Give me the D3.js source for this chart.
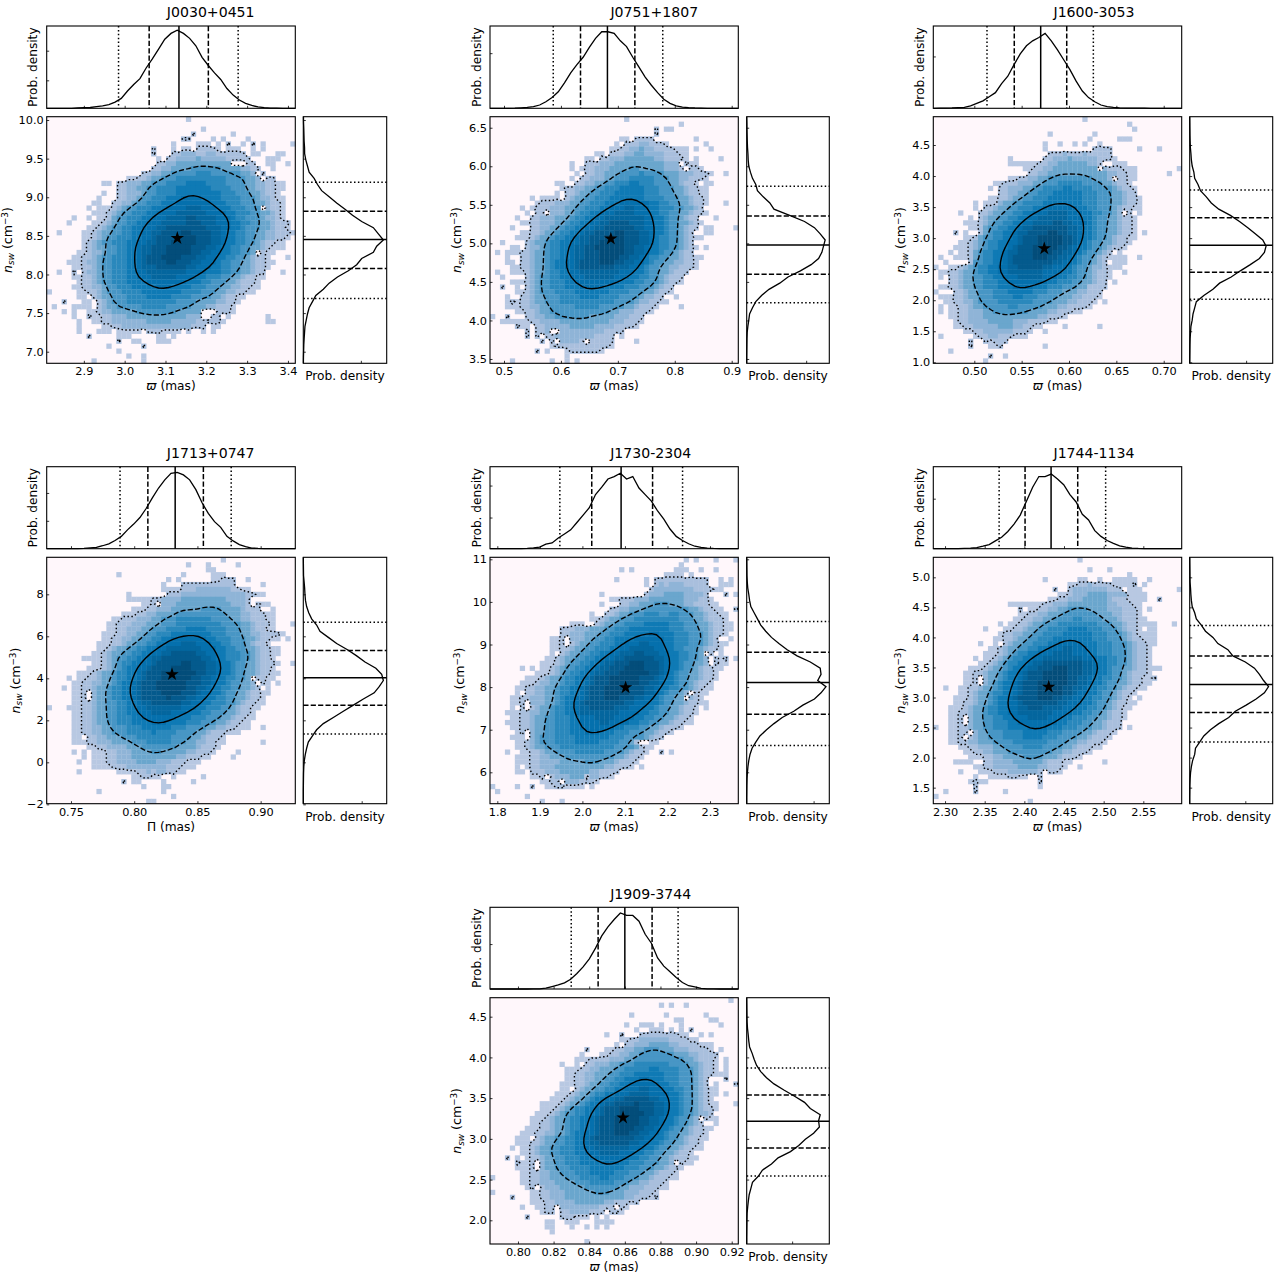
<!DOCTYPE html>
<html>
<head>
<meta charset="utf-8">
<script src="https://cdn.jsdelivr.net/npm/d3@7"></script>
<style>
body{margin:0;background:#fff}
text{font-family:"DejaVu Sans",sans-serif;fill:#000}
</style>
</head>
<body>
<script>
const names=['J0030+0451','J0751+1807','J1600-3053','J1713+0747','J1730-2304','J1744-1134','J1909-3744']
const xLabels=['ϖ','ϖ','ϖ','Π','ϖ','ϖ','ϖ']
const xDomains=[[2.809,3.418],[0.4754,0.9116],[0.4567,0.719],[0.7308,0.9274],[1.7828,2.3665],[2.2852,2.5984],[0.7843,0.9237]]
const yDomains=[[6.85,10.043],[3.444,6.643],[0.984,4.956],[-1.97,9.762],[5.263,11.047],[1.233,5.333],[1.709,4.733]]
const xTicks=[[2.9,3.0,3.1,3.2,3.3,3.4],[0.5,0.6,0.7,0.8,0.9],[0.50,0.55,0.60,0.65,0.70],[0.75,0.80,0.85,0.90],[1.8,1.9,2.0,2.1,2.2,2.3],[2.30,2.35,2.40,2.45,2.50,2.55],[0.80,0.82,0.84,0.86,0.88,0.90,0.92]]
const yTicks=[[7.0,7.5,8.0,8.5,9.0,9.5,10.0],[3.5,4.0,4.5,5.0,5.5,6.0,6.5],[1.0,1.5,2.0,2.5,3.0,3.5,4.0,4.5],[-2,0,2,4,6,8],[6,7,8,9,10,11],[1.5,2.0,2.5,3.0,3.5,4.0,4.5,5.0],[2.0,2.5,3.0,3.5,4.0,4.5]]
const xDecimals=[1,1,2,2,1,2,2]
const yDecimals=[1,1,1,0,0,1,1]
// dotted low, dashed low, median, dashed high, dotted high
const xQuantiles=[[2.985,3.06,3.133,3.205,3.278],[0.5865,0.6344,0.6817,0.7299,0.7789],[0.5134,0.5422,0.5701,0.5976,0.6257],[0.7888,0.8108,0.8324,0.8547,0.8767],[1.947,2.022,2.091,2.165,2.2355],[2.3682,2.4009,2.4337,2.4673,2.5025],[0.8299,0.845,0.86,0.8753,0.8899]]
const yQuantiles=[[7.688,8.077,8.452,8.82,9.195],[4.229,4.6,4.978,5.355,5.74],[2.016,2.45,2.887,3.327,3.774],[1.35,2.72,4.03,5.33,6.67],[6.63,7.365,8.11,8.82,9.54],[2.26,2.75,3.217,3.69,4.2],[2.545,2.888,3.217,3.537,3.87]]
const stars=[[3.129,8.47],[0.6877,5.06],[0.5739,2.834],[0.8299,4.19],[2.1016,7.99],[2.4307,3.177],[0.859,3.26]]
const topDensTicks=[[34,70],[67],[63],[34,68],[38,77],[61],[55]]
const sideDensTicks=[69,72,68,70,81,67,55]

// marginal densities, percent of the panel height, evenly spaced over the x range
const topDensity=[
[0,0,0,0,0,.4,.8,1,2,3,4.5,7.5,12,21,29,36,49,60,72,84,91,95,91,85,76,62,52,43,35,24,16,10,6,3.5,1.6,.8,.3,.1,0,0,0],
[0,0,0,0,.2,.6,1,2,4,8,13,20,31,43,53,62,74,85,93,93,91,82,75,62,50,38,28,19,11,6,3,1.5,.8,.4,.2,0,0,0,0,0,0],
[0,.2,.3,.4,.8,1.2,3,6,9,14,19,30,39,53,66,76,82,86,91,82,71,59,47,33,21,13,8,4,2,1,.4,.3,.2,.1,.1,0,0,0,0,0,0],
[0,0,0,0,0,.2,.4,1,1.6,3.6,6,10,15,23,30,38,49,62,74,84,92,93,90,84,72,56,43,33,26,15,9.5,5,2.5,.8,.4,.2,.1,0,0,0,0],
[0,0,0,0,.1,.2,.4,1,2,5.5,7,13,18,23,32,41,50,66,75,85,88,92,85,88,74,66,58,46,36,24,15,10,6,3,1.5,.6,.3,.2,.1,0,0],
[0,0,0,0,.1,.4,.8,1.4,3,5,9.5,14,21,30,41,58,75,88,88,91,85,78,66,57,42,35,22,15,10,6.5,3.5,1.8,.8,.4,.2,.1,0,0,0,0,0],
[0,0,0,0,0,0,0,.1,.2,1,3,5,7.5,12,19,27,37,50,65,76,85,93,90,90,83,67,56,38,28,21,14,8,4,2.5,.8,.2,.1,0,0,0,0]
]
// same, evenly spaced from the top of the y range to the bottom
const sideDensity=[
[.2,.3,.6,.8,1,1.5,1.6,3,5,7,13,17,22,31,40,50,59,70,84,90,96,88,84,70,64,54,41,31,24,15,11,7,5,3.5,2,1.5,1,.6,.4,.2,.1],
[0,.2,.3,.5,.7,1,1.5,1.8,2.5,4.5,7,11,13,20,28,33,52,70,82,89,95,93,91,87,78,65,50,40,27,18,11,7,3.5,2.5,1.4,.6,.3,.2,.1,0,0],
[0,.1,.2,.3,.5,.8,1.5,2,3,5,6,10,13,20,26,35,49,60,70,79,88,92,90,84,73,61,50,36,28,17,8,6,4,3,1.5,1,.5,.3,.2,.1,0],
[0,.1,.2,.3,1,1.6,2,2.6,4,6.5,10,16,20,30,40,53,64,74,87,94,96,91,85,72,60,48,36,24,16,11,6,4,2.4,1.2,.6,.3,.2,.1,0,0,0],
[0,.1,.2,.3,.7,1.3,2.5,3.5,5,9,13,17,23,30,39,49,61,77,89,90,86,96,90,82,68,57,43,33,24,16,11,6.5,4,2.5,1.5,.8,.4,.2,.1,0,0],
[0,.1,.2,.3,.4,1,1.4,2,3,6,8,14,19,28,34,46,52,67,78,84,89,95,90,80,68,55,47,35,25,17,12,7,6,3.5,2,1,.5,.2,.1,0,0],
[0,.1,.2,.3,.5,1,1.8,2.5,3.5,6.5,9,12,17,24,33,45,58,70,77,89,87,88,81,71,63,53,38,30,19,14,7,5,3,2,1.2,.5,.3,.2,.1,0,0]
]

// 2D histogram shade level per cell, 50 rows top to bottom, "firstColumn:levels" runs
const heatJ0030=["28:1","","31:1","29:2 37:1","27:22 33:1 35:1 40:1","34:1 36:2 39:1 41:2 43:1 49:1","21:2 30:2222 43:1","21:2 25:223332233222222 46:11","24:22333343333322222 44:111","22:22334444444444433222 44:11 48:1","21:2233444455555544443322 45:1","19:2233445555566655555544332","18:2234455566666666665555443222","14:22333445556666777766665555443322 47:1","14:22334455666677777776666555443322","14:22333455666677777777766655544322","14:22334556667778888777766665554332","13:223345566677788888887776665554 4322","13:23455666777888899988877766655 54322","12:234556667788889999998888776665 54432","12:245566677888999 9aa9999888766555 4332","11:234556677888999 99aaa999888776655443222","10:234556677888 99aaaaaaaa99988776555 44322","9:2344556677889 9aaaabbaaaa998776655 4433222","9:2345566677889aaaabbbbaaa9987766554 43322","8:234556667788 99aaabbbbbaaa998776655 4322","8:234455667 7899aaabbbbbaaa9987766554432","8:23345566778 99aaabbbbbaa9988776655432","7:22345566677 89aaabbbbaaa9988776655 4322","7:233455666 7789aaaabbaaa99888766554 4322","7:22345566677899 9aaaaaa99888776655 44322","7:2334556667788999 9999988887776655 44322","7:2234556667 788899999888877666 5544322","7:22345566677 7788 8888887776 6555443222","7:223345566677777888 777766 6555443322","8:22345556666777777776666555443322","9:234455566 6677777666655 5544322","10:23455566666666665555 44443322","10:23445555566666555554 4433222","10:2334444455555555444443 0 0 222","11:2233344444444444 4333 2222","11:223333333444443333322222","13:2233333333333333222","14:11 18:1 20:222 25:11 33:1","8:2 25:1","8:0","12:1 19:2","14:1","16:1 19:1","9:1 19:1"]
const heatJ0751=["27:1","38:1","33:2 35:11","33:2","29:2222 41:1","27:22233222 43:1","26:22334332222 41:1 44:1","24:22233443333222","22:22333444444332222 41:1 46:1","19:222333444444444433322","19:2233344445544444 3332222","19:22334445555655554 44333222 47:1","18:2233344555666665554433222","17:223344556667766655544322 43:1 44:1","15:2233445566677777666555 44322","15:2234455666777777666555 44322 43:1","15:23445566677777776666555 44322 43:1","10:2223334455666777888888776655 44322 47:1","9:2223334455666778889988877666 554432","9:2203334456677888999988 8776655 44322","8:2233344456677889999999988 77655 4322 5:1 45:1","8:22333445667788 99aaaa99988776554432","8:2233445667788 99aaaaaa998877655 4322 4:1 43:11 49:1","8:2234456677899aaaabbaaa99877655432 43:11","8:2344566778 99aaabbbbaaa99876655432 42:1","7:234456677 8899aabbbbbaaa99876655432 2:1","7:233456677 899aabbbbbbaa99877 6655432 43:1","6:2234456677899aaabbbbbaa9987765 54322 1:1","6:22344566778 99aaabbbbaa9987665 544322 3:1 41:11","6:2234456778 89aaaabbbaa99887655443322","6:22344567788 9aaaaaaa99988 76554433222","7:234456677 8899999999888776554 43222 1:1","7:23455667 7888999999888776655 43222 2:1","7:234556667788888888 877766555 4322","7:2345566677788888777766 6555 4322 2:2 5:1","7:2345556666777777766665 5544322","6:22344555666677776666 555543322 3:1 37:1","6:22344555666666666665555 43322 4:2","6:2233445555566666555554 43222 38:1","7:223445555555555554 4333222","7:2233445555555 4444 4333222 0:1 3:2","8:2233334444444444333222 2:111","9:22333334444433332222 5:2","9:223303333333332222 7:2","9:2022333333332222 7:2","10:202233332022222 29:1","13:22222222222 24:1","16:222222 9:2 11:1 15:1","15:1","4:1 12:1 15:1 17:1"]
const heatJ1600=["30:1","39:1","40:1","23:1 32:1","31:1 37:111","22:1 25:1 28:1 30:1","22:1 32:2222 41:1 45:1","23:2223222322222","22:22333433333222 15:1","21:223344444433222 15:1 17:1111 37:11","20:223344444444443222 49:1 38:1","19:22334444444444443322 47:1 39:1","17:2233445555555554443222","14:22233344555666665555 44322","13:22333445566667766665555 4322","13:22334455666777777666555 44322","13:2234455666 7777777666555 44322","12:2344556666777777776665 5544322 8:1 10:111","10:2234455666778888888776655 54322","9:2234455667788899998887766 554322 5:1 41:1","9:23445566778899999988877655 44322","9:234556677889999aa998887655 44322 6:1","9:24556677899aaaaaaa9987765 544322","9:245667789 9aaaabbaa99877655 44322 4:2 42:1","8:2455667789aaabbbbbaa9877655 4322 6:1","7:2345667788 9aaabbbbbaa987655 44322","7:234566778 9aaabbbbbaa9877655 4322 5:1","7:245667789 9aaabbbbaa99876554322 3:1","7:24566778 9aaaabbbaa9987655432 1:1 4:1 41:1 37:11","7:25566778 9aaaaaaaa99887655432 2:1 36:111","5:2345667788 99aaaaa998887655 4332 0:1","3:223445667788 9999999888877655 4322 38:1","3:22344556677888999998887766 554322","3:223445566677888888887766 65544322 36:1","3:2234455666777888877766 6555 442222","4:22344555666777776665 5544433222 0:1","4:223445556666776665555 44433222 1:1","4:2233 4555566666665555 44433222 34:1","5:223445555566555554 44332222 1:1","5:2233344555555 5444433222 1:1 26:2","5:223334444444444433222","5:223333444443332222","6:22333334443322 26:1 33:1","8:22333333222 22:1","9:2233222 1:1 18:1","10:20222 7:2 11:1","7:2 13:2 22:1","3:1","11:2 14:1","10:1"]
const heatJ1713=["35:1","28:1 32:1 38:1","32:11","14:1 27:1 33:111","24:1 26:1 33:11 35:222 40:1","23:1 27:22222222222 43:1","23:1 27:222333333322","16:1 24:222333333333333322","16:111 21:2233334444444443333222","21:2033344444444444333222 44:1","20:22333444444555544443222 45:1","18:22334444555555555544433222 45:1","15:2223334455566666665555 4433222 45:1","14:222333444555666666666555 5443222 49:1","14:2233344555666677776666555 44322","14:22334455666777777776665 5544332222 11:1 47:1","13:22334455667788888887766 6555 44322 48:1","13:2234455667788899988877 66555 4322 10:1","12:23445566778899999998887766 55 44322 10:1 46:1","11:23445566778899aaaaa998877 66655 4322 9:1","11:234556677899aaaaaaaa99877666 55 4322 7:11","11:2345667788 9aaaaabbaaa99877655443222 49:1","11:23456778 89aaaabbbbaaa99877655 44322","9:234456677 89aaabbbbbbbaa99877655 44322","8:223445667789aaabbbbbbaa998776655 4022 4:1","7:223344567789aaabbbbbbaaa99877655 44302 46:1","7:223445667789aaabbbbbbaa998776655 44320 3:1 44:1","7:2034456677 89aaaabbbbaaa98877655 44322","7:2034456677 89aaaaabaaa9988776655 44322 6:1","7:22344556677899aaaaaa99887766655 4322","7:22344556677889999999888776665 54322 0:1 4:1","7:223445566778889999888777 66555 44322 5:1","7:22344556667788888887776 66555 44322 5:1 40:1","7:22344556667777888777766 6555 44322 40:1","7:22334455566677777766 65555 44 3322 40:1 43:1","7:22334455566666766665555 443222 36:111","8:22334445556666666555 5443222 35:1","8:2233344445556666655 5443322 5:11 34:1 43:1","10:2233334445555555 44443222","12:2233344445 5444443 3222 5:1 7:1 38:1","12:2233344444444433222 7:1 9:11 37:1 31:1","12:2233334444333222 6:1 9:11 28:111","13:22233333333222 9:11 28:11","18:22323322 6:1 14:1 16:1","19:22 17:11 22:1 25:1 31:1","15:2 17:11 23:1 29:1","19:1 23:11","10:1 23:1","25:1","20:11"]
const heatJ1730=["39:1 41:1 45:1 49:1","38:1","26:1 28:1 37:111 42:1 45:1","36:11 40:1","25:1 31:1 33:22222222222 46:1 48:1","31:1 33:2323332222 43:2 46:111","32:2333333332222 46:1","22:1 31:2333444433332 47:2 49:1","26:222333444444433322","26:22334445554 4433222","24:22334445555555554 4322 49:2","23:223445556665566555 44322 20:1 47:1","22:2344555666666666555 443222","21:23445566667777766655 544322 48:1","14:222333444556667777777766655544322","14:223334445566677777 88777666555 4322","14:2033344556677778888887766655 5432 48:1","14:2023445566 67788899888 77666555 432","14:2234455666778899999887766555 4322","14:23445566778899 9aa999887 76655 4020","13:2344556677889 9aaaaaa9987766554302 47:2 49:1","13:23455667789 9aaabbbaaa987765 5 44302","12:2345566778 99aaabbbbaaa9877655 4322 6:1 8:1","12:2345667789 9aaabbbbbbaa987655 44322","10:2344566778 9aaabbbbbbaaa987765 544322 8:1","8:223344566778 9aaabbbbbbaa99877655 4322 8:1","7:2233445667789aaabbbbbaaa99877 6655432","7:2233445667789aaabbbbbaaa9987 6554302","6:22333445677889aaabbbaaa99887655 44032","6:20333445677 89aaaaaaaa9988 8 77655 44322 43:1","6:20234456677899aaaaa999888 77655 44322 43:1","6:22334456677 89999 9999888877 6655 44322","6:223445566677888999988887 76655 44322","6:22344556667788889988887 76655 44322 3:1","6:223445566677888888877 66655 443222","6:20344556667778 88777666555 44322","6:20345556666777777766 65555 4322 4:111","7:2345556666777776666 55 42","7:234455566666666666 5555 42","8:22344555566666655554 322 3:1 34:2 36:1","8:2233444555555555544322 5:1 7:1","8:22333344444555 444 3222 5:111","8:22333444444444433222 5:1 7:1 30:1","8:22233344444433222 25:2","10:20233344443322 19:1","12:220333222","13:22 0:1 5:1 8:2 18:1 20:1","1:1","7:1","10:1 14:1"]
const heatJ1744=["29:1","","31:1 35:1","39:1","22:1 30:1 37:1111 43:1","29:2232222 38:11 40:2 42:1","24:2 27:23333333222 39:111 49:1","27:233344443333 40:111","25:22333444443222 40:111 45:2","22:223334444444433222 15:111","21:22334455554444333222 17:2 43:1","19:22334445555555 44433222","18:2233445555665555 4443222","17:22344555666666665 5544322 13:1 43:11 48:1","16:2234455666677776665 554322 10:1 43:11","14:22334455666677777766655 5432 43:11","14:2234455666777777776665 5 54322 44:1","14:23445566677888887776665 5 54322 9:1 44:1","13:234455667788899888776665 5 54322 43:1","13:23456677888999988877 6665 554322","12:23456677889999999988877665 54322 8:1","11:2345667789 9aaaaaaaa9987766554322","10:234456778 99aaabbbaaa99877655 44322 7:1 45:1","8:223445677 89aaabbbbbaaa99877655 43222","8:20344567789aaabbbbbaa99877665 54322 44:2","8:203456778 9aaabbbbbbaa99877655 44322","7:2234456778 9aaabbbbbaa99877665 54322 2:1 6:1","7:234456677 89aaabbbbbaa98877655 4322","7:23445677 89aaaabbbaa998877 6655432 4:1 39:1 41:1 6:1","6:223445677 889aaaaaaa99888 77655 4322","6:234456677 8899aaa9999888776655 432","5:223445667788 9999 9998888776655 4322 3:11","5:2034455667788 8999988877 66655 44322","5:20344556667788888888 77 66655 44322 37:2","5:22344556667777888877766655 5443222 0:1 39:1","5:2203445556666777776665555 443222","5:20234455566667777666 5555 443222","5:22334445555666666655 55 4433222","7:22333445555666655 55 443222","8:223344455555555 54433222","10:22334444555544 43222 8:1","10:2233334444443222 4:1111 34:1","10:2233333444433222 29:1","12:2223333332022 5:1","15:22 8:1 21:2","7:1211 21:2","8:2 21:1","2:1 8:2 14:1","0:1","19:1"]
const heatJ1909=["48:1","34:1 36:1 39:1","","28:1 35:1 43:1","37:11 44:11","27:1 32:1 38:1 46:1","38:1 40:2","23:1 26:2 30:22222222 42:1 44:1","28:223333332222","27:223334444332222 44:1","25:2233445554 443332222 19:2 46:1","24:22334455555554 4433222 45:2","20:2222333445555555555 443222 47:1","19:223334455566666665555 44322 14:1 47:1","18:22334445566666776666555 4322 47:1","17:22334445566677777766 6555 4322 47:1","17:2233445566777887776665 5 54320 47:2","17:2234455667788888877 66555 4320 49:2","17:2344556677888998887766 55432","16:23445667788899998888 77655432 47:1","15:234456778899aaaaa998877655432","14:2344567789 9aaaabaaa99877655432 10:1 49:1","13:23456677 89aaabbbbaaa99877655 4322","12:234556677 89aaabbbbbaa99877655 4332","11:234456677 89aaabbbbbaa99877655 4302","11:23445667 789aaabbbbbaa99877655 4320 10:2 45:1","10:2234456677 89aaabbbbaa99877655 4322","9:2233445677 889aaabbbaa99887655 44322 43:1","9:2344556677 89aaaaaaaa998877655 4322 6:1","8:22344556677 899aaaaaa998877655 44322","8:2344556667 7889999999888 77655 44322 4:1","8:234455666 778889999888776655 443222 40:1","8:22344556667 7788888887766 55 443222 3:2 7:1","8:2034 45566677777888776 66555 44302 5:2","8:20344555666677777776 66555 44322","8:22334455566677777666555 443222 6:1","8:22334445556666776665 55 443222 0:1","8:22333444455566666555 4433222 35:1","8:2023334444455555554 4333222","10:223334444445554 44333222 0:1","10:2233344444444444433222 4:2 33:2","11:22333344444433222 8:1 29:2","11:2203333333322202 6:1","11:220223333222022","14:222 7:2 19:1 21:1 23:1","11:11 15:1 23:11","11:11 16:1 19:1 21:1 23:1","12:1","","19:1"]
const heatRows=[heatJ0030,heatJ0751,heatJ1600,heatJ1713,heatJ1730,heatJ1744,heatJ1909]
// thin-count cells and white gaps around the dotted edge: [row,"firstColumn:levels"]
const edgeCells=[
[[5,"25:1 30:111"],[6,"25:1 27:11 34:1 36:111 41:1"],[7,"41:11"],[8,"22:1"],[9,"37:000"],[11,"42:0"],[12,"16:11 43:0"],[13,"11:11 46:1"],[14,"46:11"],[15,"11:1 46:1"],[16,"10:1 46:11"],[17,"9:11 47:1"],[18,"8:1 10:111 43:0 47:1"],[19,"9:111 47:1"],[20,"5:1 8:1 10:11 47:1"],[21,"4:1 9:11"],[22,"8:11 48:1"],[23,"2:1 7:11 49:1"],[24,"7:11 48:1"],[25,"7:1 46:11"],[26,"7:1 45:111"],[27,"6:11 42:0 44:11"],[28,"5:11 44:1 48:1"],[29,"4:111 44:11"],[30,"5:11 43:11"],[31,"2:1 5:2 43:1 47:1"],[32,"5:11 42:11"],[33,"6:1 42:1"],[34,"5:11 41:11"],[35,"0:1 6:11 40:11"],[36,"6:11 38:11"],[37,"3:2 7:11 38:1"],[38,"1:1 5:1111 37:1"],[39,"3:1 5:1 8:11 31:000 37:1"],[40,"5:1 8:2 9:11 31:00 36:1 44:1"],[41,"6:1 9:11 35:1 44:11"],[42,"6:1 11:11 33:11"],[43,"6:1 10:111 16:11 23:11 28:1 31:1"],[44,"8:2 14:111 22:11 25:1"],[45,"14:2 17:11 22:111"],[46,"12:1 19:2"]],
[[4,"26:11"],[5,"25:1 35:1"],[6,"24:11 37:111"],[7,"21:11 38:11"],[8,"19:11 39:1"],[9,"16:1 38:0 40:11"],[10,"16:1 18:1 39:0 42:1"],[11,"17:1 44:1"],[12,"16:1 43:1"],[13,"13:11 41:1"],[14,"14:1 42:11"],[15,"13:1 42:1"],[16,"8:1 10:1111"],[17,"9:1 43:1"],[18,"6:1 8:1"],[19,"7:1 43:1"],[21,"6:11 42:1"],[23,"6:11"],[24,"5:111 41:1"],[26,"4:11 41:1"],[27,"3:111"],[29,"3:11 41:1"],[30,"4:11 41:1"],[31,"4:111"],[33,"4:111 38:1"],[35,"5:11 36:1"],[37,"3:111 34:11"],[38,"3:111 33:1"],[39,"5:11 32:1"],[41,"5:111 30:1"],[42,"6:11 29:1"],[43,"12:0"],[44,"26:1"],[45,"13:0"],[46,"12:1 24:1"],[47,"22:1"]],
[[5,"33:1"],[8,"36:1"],[9,"16:1 34:00 36:1"],[10,"18:11 33:0 38:111"],[11,"39:11"],[12,"15:11 36:0 39:11"],[13,"12:11 39:1"],[14,"11:1 40:1"],[16,"11:11 41:1"],[17,"41:1"],[18,"8:1 40:11"],[19,"38:0"],[20,"7:1 40:1"],[21,"7:11 40:1"],[22,"7:11 40:1"],[23,"6:1 40:1"],[24,"6:11 39:11"],[25,"5:11 39:1"],[26,"4:111 38:1"],[27,"5:11 36:0 37:1"],[28,"5:11 35:11"],[30,"3:11 35:111"],[31,"1:11 35:1"],[32,"1:1 35:1"],[34,"1:11 34:1"],[36,"2:11 33:1"],[37,"2:11 32:1"],[38,"3:11 31:1"],[39,"3:11 28:11"],[40,"3:11 26:1"],[41,"4:1 23:11"],[42,"4:11 20:11"],[43,"6:11 19:1"],[44,"8:1 16:11"],[46,"11:11"]],
[[6,"24:111 39:11"],[7,"42:11"],[8,"19:11 41:00"],[9,"19:11 41:0 43:1"],[10,"17:111"],[11,"15:111 44:1"],[12,"13:11 44:1"],[13,"12:11 44:11"],[14,"12:11 44:11"],[15,"12:11"],[16,"11:11 45:11"],[17,"11:11 44:1"],[18,"11:1 45:1"],[19,"10:1 45:11"],[20,"8:111 45:1"],[21,"9:11 46:1"],[22,"8:111 45:1"],[23,"6:111 45:11"],[24,"6:11 44:11"],[25,"5:11 44:1"],[26,"5:11"],[27,"5:11 43:11"],[28,"5:1 43:1"],[29,"5:11 42:11"],[30,"5:11 41:11"],[31,"5:11 41:1"],[32,"5:11 40:11"],[33,"5:11 39:11"],[34,"5:11 38:11"],[35,"5:11 37:1"],[36,"5:11"],[37,"7:1 34:11"],[38,"8:11 34:1"],[39,"9:111 33:1"],[40,"10:11 31:11"],[41,"10:11"],[42,"11:11 27:1"],[43,"15:111 26:11"],[44,"21:1"]],
[[3,"35:1 38:1"],[6,"45:1"],[8,"24:11 44:1"],[9,"22:1 44:11"],[10,"45:11"],[11,"46:11"],[12,"20:11 47:1"],[13,"16:111 47:11"],[14,"47:11"],[15,"47:1"],[16,"12:11"],[17,"12:11 46:11"],[18,"12:11 46:1"],[19,"12:1 46:1"],[20,"11:11 46:1"],[21,"10:111 46:11"],[22,"10:11 45:11"],[23,"9:111 45:1"],[24,"7:111 45:1"],[25,"6:11 44:1"],[26,"5:11 43:11"],[27,"5:1 42:11"],[28,"4:11 42:1"],[29,"4:11 42:1"],[30,"4:1 41:1"],[31,"3:111 41:1"],[32,"4:11 40:1"],[33,"4:11 39:11"],[34,"4:11 38:1"],[35,"5:1 36:1"],[37,"5:11 32:11"],[38,"5:11 31:11"],[39,"6:11 31:1"],[40,"6:11 30:1"],[41,"29:1"],[42,"28:1"],[43,"5:11"],[44,"8:11 24:1"],[45,"10:11 21:1"],[46,"11:11 15:111"]],
[[4,"29:1 33:1 36:1"],[5,"27:11 36:11"],[7,"25:11 39:1"],[8,"23:11 39:1"],[9,"18:1111 40:11"],[10,"19:11 41:1"],[11,"17:11 41:1"],[12,"16:11 41:11"],[13,"15:11 41:11"],[14,"14:11 41:1"],[15,"13:1 41:11"],[16,"12:11 42:11"],[17,"12:1 43:1"],[18,"11:11"],[19,"10:111 43:1"],[20,"10:11 43:1"],[21,"9:11 43:1"],[22,"8:11 43:11"],[23,"6:11 43:1"],[24,"6:11 42:11"],[25,"6:11 42:11"],[26,"5:11 41:11"],[27,"5:11 40:1"],[28,"5:1"],[29,"4:11 39:11"],[30,"3:111 38:11"],[31,"38:1"],[32,"3:11 38:1"],[33,"3:11"],[34,"3:11 37:1"],[35,"3:11 36:1"],[36,"3:11 35:1"],[37,"3:11 34:1"],[38,"5:11 32:11"],[39,"6:11 31:1"],[40,"7:111 29:1"],[41,"26:11"],[42,"8:11 26:1"],[43,"9:111 25:1"],[44,"11:1111 17:11"]],
[[5,"30:11 34:1"],[6,"29:1 32:111 36:1"],[7,"38:11"],[8,"26:11 40:11"],[9,"25:1 42:11"],[10,"23:11 44:1"],[11,"18:1 22:11"],[12,"17:111 45:1"],[13,"17:1 45:1"],[14,"15:111 45:1"],[15,"15:11 45:11"],[16,"15:11"],[17,"14:111 45:1"],[18,"14:11 44:11"],[19,"13:111 44:11"],[20,"12:111 44:1"],[21,"11:111 44:11"],[22,"10:111 45:1"],[23,"9:111"],[24,"8:111 44:11"],[25,"8:111"],[26,"7:111 43:11"],[27,"6:111"],[28,"5:111 42:11"],[29,"5:111 42:1"],[30,"6:11 41:11"],[31,"6:11"],[32,"5:1 40:11"],[33,"6:11 39:11"],[34,"5:111 38:1"],[35,"6:11 37:1"],[36,"6:11 36:11"],[37,"6:11"],[38,"7:1 34:11"],[39,"8:11 33:1"],[40,"8:11 32:1"],[41,"9:11 28:1"],[42,"9:11 27:1"],[43,"10:1 26:1"],[44,"17:111"],[45,"16:11 21:11"]]
]

const width=1283
const height=1277
const nBins=50
const levelColors=['#fff7fb','#b8c8e2','#a9bfdd','#8fb4d7','#6aa6cd','#4896c5','#2a88bc','#0f7ab5','#0570ad','#04669e','#045a8d','#034d7a']
const colX=[[46.7,295.3,303.3,386.7],[490,738.3,746.7,829.3],[933.3,1181.7,1189.7,1272.7]]
const rowY=[[26,108.3,116.7,363.3],[466.7,548.7,557.3,803.7],[907.3,989,997.7,1244]]
const panelCol=[0,1,2,0,1,2,1]
const panelRow=[0,0,0,1,1,1,2]
const titleX=[164,164.3,160.7,164,160.7,160.7,160.7]
const ylabelX=[-35,-29,-28,-27,-26,-28,-29]
const dashes=['1.5,2.4','5.2,2.2','','5.2,2.2','1.5,2.4']
const contourDash=['1.5,2.4','5.2,2.2','']
const contourBlur=[0,.4,.8]
const contourLevels=[1.5,4.5,7.5]

const svg=d3.select('body').append('svg').attr('width',width).attr('height',height).style('display','block')

function writeRow(values,r,row){
  let col=0
  row.split(' ').filter(s=>s).forEach(seg=>{
    const parts=seg.split(':')
    if(parts.length==2){col=+parts[0];seg=parts[1]}
    for(const ch of seg){
      if(col<nBins)values[r*nBins+col]=parseInt(ch,16)
      col++
    }
  })
}

function frame(g,x0,y0,x1,y1){
  g.append('rect').attr('x',x0).attr('y',y0).attr('width',x1-x0).attr('height',y1-y0)
   .attr('fill','none').attr('stroke','#000').attr('stroke-width',1.1)
}
function styleAxis(a){
  a.select('.domain').remove()
  a.selectAll('line').attr('stroke','#000').attr('stroke-width',.8)
  a.selectAll('text').style('font-size','11.3px').style('font-family','"DejaVu Sans",sans-serif')
}

names.forEach((name,p)=>{
  const [mx0,mx1,sx0,sx1]=colX[panelCol[p]]
  const [ty0,ty1,my0,my1]=rowY[panelRow[p]]
  const g=svg.append('g')
  const xScale=d3.scaleLinear().domain(xDomains[p]).range([mx0,mx1])
  const yScale=d3.scaleLinear().domain(yDomains[p]).range([my1,my0])
  const gx=d3.scaleLinear().domain([0,nBins]).range([mx0,mx1])
  const gy=d3.scaleLinear().domain([0,nBins]).range([my0,my1])
  const values=new Array(nBins*nBins).fill(0)
  heatRows[p].forEach((row,r)=>writeRow(values,r,row))
  edgeCells[p].forEach(e=>{
    // thin cells only fill empty spots, a 0 opens a gap
    const before=values.slice()
    writeRow(values,e[0],e[1])
    for(let i=e[0]*nBins;i<(e[0]+1)*nBins;i++){
      if(values[i]==1&&before[i]>1)values[i]=before[i]
    }
  })

  g.append('clipPath').attr('id','clip'+p).append('rect')
   .attr('x',mx0).attr('y',my0).attr('width',mx1-mx0).attr('height',my1-my0)

  // 2D histogram
  g.append('rect').attr('x',mx0).attr('y',my0).attr('width',mx1-mx0).attr('height',my1-my0).attr('fill',levelColors[0])
  const cells=[]
  values.forEach((v,i)=>{ if(v>0)cells.push({c:i%nBins,r:Math.floor(i/nBins),v:v}) })
  g.append('g').selectAll('rect').data(cells).enter().append('rect')
   .attr('x',d=>gx(d.c))
   .attr('y',d=>gy(d.r))
   .attr('width',gx(1)-gx(0)+.3)
   .attr('height',gy(1)-gy(0)+.3)
   .attr('fill',d=>levelColors[d.v])

  // contours from the same grid, the inner two slightly smoothed
  const path=d3.geoPath(d3.geoTransform({point(x,y){this.stream.point(gx(x),gy(y))}}))
  const contourG=g.append('g').attr('clip-path','url(#clip'+p+')')
  contourLevels.forEach((lev,i)=>{
    const field=Float64Array.from(values)
    if(contourBlur[i]>0&&d3.blur2)d3.blur2({data:field,width:nBins},contourBlur[i])
    contourG.append('path')
     .attr('d',path(d3.contours().size([nBins,nBins]).contour(field,lev)))
     .attr('fill','none')
     .attr('stroke','#000')
     .attr('stroke-width',1.4)
     .attr('stroke-dasharray',contourDash[i])
  })

  g.append('path').attr('d',d3.symbol().type(d3.symbolStar).size(56)())
   .attr('transform','translate('+xScale(stars[p][0])+','+yScale(stars[p][1])+')')
   .attr('fill','#000')

  // main axes
  const xAxis=d3.axisBottom(xScale).tickValues(xTicks[p]).tickSizeInner(-2.5).tickSizeOuter(0).tickPadding(4).tickFormat(d3.format('.'+xDecimals[p]+'f'))
  const yAxis=d3.axisLeft(yScale).tickValues(yTicks[p]).tickSizeInner(-2.5).tickSizeOuter(0).tickPadding(3).tickFormat(d3.format('.'+yDecimals[p]+'f'))
  g.append('g').attr('transform','translate(0,'+my1+')').call(xAxis).call(styleAxis)
  g.append('g').attr('transform','translate('+mx0+',0)').call(yAxis).call(styleAxis)
  frame(g,mx0,my0,mx1,my1)

  // top marginal
  const topY=d3.scaleLinear().domain([0,100]).range([ty1,ty0])
  const topIdx=d3.scaleLinear().domain([0,topDensity[p].length-1]).range(xDomains[p])
  xQuantiles[p].forEach((q,i)=>{
    g.append('line').attr('x1',xScale(q)).attr('x2',xScale(q)).attr('y1',ty0).attr('y2',ty1)
     .attr('stroke','#000').attr('stroke-width',1.5).attr('stroke-dasharray',dashes[i])
  })
  g.append('path').datum(topDensity[p])
   .attr('d',d3.line().x((d,i)=>xScale(topIdx(i))).y(d=>topY(d)))
   .attr('fill','none').attr('stroke','#000').attr('stroke-width',1.3)
  g.append('g').attr('transform','translate(0,'+ty1+')')
   .call(d3.axisBottom(xScale).tickValues(xTicks[p]).tickSizeInner(-2.5).tickSizeOuter(0).tickFormat('')).call(styleAxis)
  g.append('g').attr('transform','translate('+mx0+',0)')
   .call(d3.axisLeft(topY).tickValues(topDensTicks[p]).tickSizeInner(-2.5).tickSizeOuter(0).tickFormat('')).call(styleAxis)
  frame(g,mx0,ty0,mx1,ty1)

  // side marginal
  const sideX=d3.scaleLinear().domain([0,100]).range([sx0,sx1])
  const sideIdx=d3.scaleLinear().domain([0,sideDensity[p].length-1]).range([yDomains[p][1],yDomains[p][0]])
  yQuantiles[p].forEach((q,i)=>{
    g.append('line').attr('x1',sx0).attr('x2',sx1).attr('y1',yScale(q)).attr('y2',yScale(q))
     .attr('stroke','#000').attr('stroke-width',1.5).attr('stroke-dasharray',dashes[i])
  })
  g.append('path').datum(sideDensity[p])
   .attr('d',d3.line().x(d=>sideX(d)).y((d,i)=>yScale(sideIdx(i))))
   .attr('fill','none').attr('stroke','#000').attr('stroke-width',1.3)
  g.append('g').attr('transform','translate(0,'+my1+')')
   .call(d3.axisBottom(sideX).tickValues([sideDensTicks[p]]).tickSizeInner(-2.5).tickSizeOuter(0).tickFormat('')).call(styleAxis)
  g.append('g').attr('transform','translate('+sx0+',0)')
   .call(d3.axisLeft(yScale).tickValues(yTicks[p]).tickSizeInner(-2.5).tickSizeOuter(0).tickFormat('')).call(styleAxis)
  frame(g,sx0,my0,sx1,my1)

  // text
  g.append('text').attr('x',mx0+titleX[p]).attr('y',ty0-8.7).attr('text-anchor','middle').style('font-size','14.1px').text(name)

  const xl=g.append('text').attr('x',(mx0+mx1)/2).attr('y',my1+27).attr('text-anchor','middle').style('font-size','12.2px')
  if(xLabels[p]=='ϖ')xl.append('tspan').style('font-style','italic').text('ϖ')
  else xl.append('tspan').text('Π')
  xl.append('tspan').text(' (mas)')

  g.append('text').attr('x',(sx0+sx1)/2).attr('y',my1+17).attr('text-anchor','middle').style('font-size','12.2px').text('Prob. density')
  g.append('text').attr('transform','translate('+(mx0-9.4)+','+(ty0+ty1)/2+') rotate(-90)')
   .attr('text-anchor','middle').style('font-size','12.2px').text('Prob. density')

  const yl=g.append('text').attr('transform','translate('+(mx0+ylabelX[p])+','+(my0+my1)/2+') rotate(-90)')
   .attr('text-anchor','middle').style('font-size','12.6px')
  yl.append('tspan').style('font-style','italic').text('n')
  yl.append('tspan').style('font-style','italic').style('font-size','8.8px').attr('dy',2.5).text('sw')
  yl.append('tspan').attr('dy',-2.5).text(' (cm')
  yl.append('tspan').style('font-size','8.8px').attr('dy',-4).text('−3')
  yl.append('tspan').attr('dy',4).text(')')
})
</script>
</body>
</html>
